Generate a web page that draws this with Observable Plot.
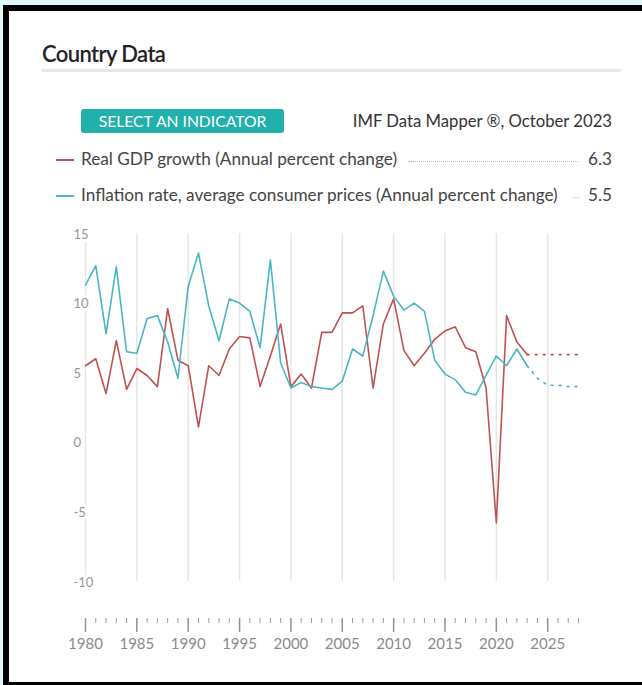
<!DOCTYPE html>
<html>
<head>
<meta charset="utf-8">
<script src="https://cdn.jsdelivr.net/npm/d3@7"></script>
<script src="https://cdn.jsdelivr.net/npm/@observablehq/plot@0.6"></script>
<style>
  html, body { margin: 0; padding: 0; }
  body { width: 642px; height: 685px; overflow: hidden; background: #e0f6fb; position: relative; font-family: Lato, "Open Sans", sans-serif; }
  #frame { position: absolute; left: 3px; top: 5px; width: 700px; height: 671px; background: #fff;
           border-left: 6px solid #000; border-top: 6px solid #000; border-bottom: 4px solid #000; }
  #title { position: absolute; left: 42px; top: 40px; font-size: 22px; font-weight: 600; color: #222; letter-spacing: -0.6px; }
  #rule { position: absolute; left: 42px; top: 69px; width: 579px; height: 3px; background: #e8e8e8; }
  #btn { position: absolute; left: 81px; top: 109px; width: 203px; height: 24px; background: #22b0ab; border-radius: 3px;
         color: #fff; font-size: 15.7px; line-height: 24px; text-align: center; }
  #src { position: absolute; right: 30px; top: 111px; font-size: 16.7px; color: #333; }
  .row { position: absolute; left: 56px; width: 556px; height: 20px; font-size: 17.2px; color: #444; }
  .row .sw { position: absolute; left: 0; top: 11px; width: 18px; height: 1.5px; }
  .row .lab { position: absolute; left: 25px; top: 0; white-space: nowrap; }
  .row .lead { position: absolute; top: 13px; border-top: 1px dotted #bbb; }
  .row .val { position: absolute; right: 0; top: 0; }
  #chart { position: absolute; left: 0; top: 220px; }
</style>
</head>
<body>
<div id="frame"></div>
<div id="title">Country Data</div>
<div id="rule"></div>
<div id="btn">SELECT AN INDICATOR</div>
<div id="src">IMF Data Mapper ®, October 2023</div>
<div class="row" style="top:148px"><div class="sw" style="background:#bf5250"></div><div class="lab">Real GDP growth (Annual percent change)</div><div class="lead" style="left:352px;width:170px"></div><div class="val">6.3</div></div>
<div class="row" style="top:184px"><div class="sw" style="background:#4ab6c4"></div><div class="lab">Inflation rate, average consumer prices (Annual percent change)</div><div class="lead" style="left:517px;width:7px"></div><div class="val">5.5</div></div>
<div id="chart"></div>
<script>
const years = [1980,1981,1982,1983,1984,1985,1986,1987,1988,1989,1990,1991,1992,1993,1994,1995,1996,1997,1998,1999,
  2000,2001,2002,2003,2004,2005,2006,2007,2008,2009,2010,2011,2012,2013,2014,2015,2016,2017,2018,2019,
  2020,2021,2022,2023,2024,2025,2026,2027,2028];
const gdpGrowth = [5.5,6.0,3.5,7.3,3.8,5.3,4.8,4.0,9.6,5.9,5.5,1.1,5.5,4.8,6.7,7.6,7.5,4.0,6.2,8.5,
  4.0,4.9,3.9,7.9,7.9,9.3,9.3,9.8,3.9,8.5,10.3,6.6,5.5,6.4,7.4,8.0,8.3,6.8,6.5,3.9,
  -5.8,9.1,7.2,6.3,6.3,6.3,6.3,6.3,6.3];
const inflation = [11.3,12.7,7.8,12.6,6.5,6.4,8.9,9.1,7.2,4.6,11.2,13.6,9.8,7.3,10.3,10.0,9.4,6.8,13.1,5.7,
  3.9,4.3,4.0,3.9,3.8,4.4,6.7,6.2,9.1,12.3,10.5,9.5,10.0,9.4,5.9,4.9,4.5,3.6,3.4,4.8,
  6.2,5.5,6.7,5.5,4.6,4.1,4.1,4.0,4.0];
const lastActual = 2023;
const gridYears = [1980,1985,1990,1995,2000,2005,2010,2015,2020,2025];
const minorYears = years.filter(y => !gridYears.includes(y));
const yTicks = [15,10,5,0,-5,-10];

const gdpColor = "#bf5250";
const inflColor = "#4ab6c4";

const rows = years.map((year, i) => ({year, gdp: gdpGrowth[i], infl: inflation[i]}));
const actual = rows.filter(d => d.year <= lastActual);
const proj = rows.filter(d => d.year >= lastActual);

const chart = Plot.plot({
  width: 600,
  height: 440,
  marginLeft: 85,
  marginRight: 22,
  marginTop: 13,
  marginBottom: 79,
  style: {fontFamily: "Lato, 'Open Sans', sans-serif", background: "transparent", overflow: "visible"},
  x: {domain: [1980, 2028], label: null},
  y: {domain: [-10, 15], axis: null, label: null},
  marks: [
    Plot.ruleX(gridYears, {x: d => d, y1: -10, y2: 15, stroke: "#e6e6e6", strokeWidth: 1.5}),
    Plot.text(yTicks, {x: 1980, y: d => d, text: d => String(d), dx: -12, dy: 1, textAnchor: "start",
      fill: "#999", stroke: "white", strokeWidth: 6, fontSize: 13}),
    Plot.line(actual, {x: "year", y: "gdp", stroke: gdpColor, strokeWidth: 1.6}),
    Plot.line(actual, {x: "year", y: "infl", stroke: inflColor, strokeWidth: 1.6}),
    Plot.line(proj, {x: "year", y: "gdp", stroke: gdpColor, strokeWidth: 1.6, strokeDasharray: "2,6"}),
    Plot.line(proj, {x: "year", y: "infl", stroke: inflColor, strokeWidth: 1.6, strokeDasharray: "2,6"}),
    Plot.axisX(minorYears, {tickSize: 5, dy: 37, stroke: "#9898b0", tickFormat: () => ""}),
    Plot.axisX(gridYears, {tickSize: 14, dy: 37, stroke: "#8e8ea8", strokeWidth: 1.5, tickPadding: 6,
      tickFormat: d => String(d), fontSize: 15, fill: "#8a8a8a"})
  ]
});
document.getElementById("chart").appendChild(chart);
</script>
</body>
</html>
